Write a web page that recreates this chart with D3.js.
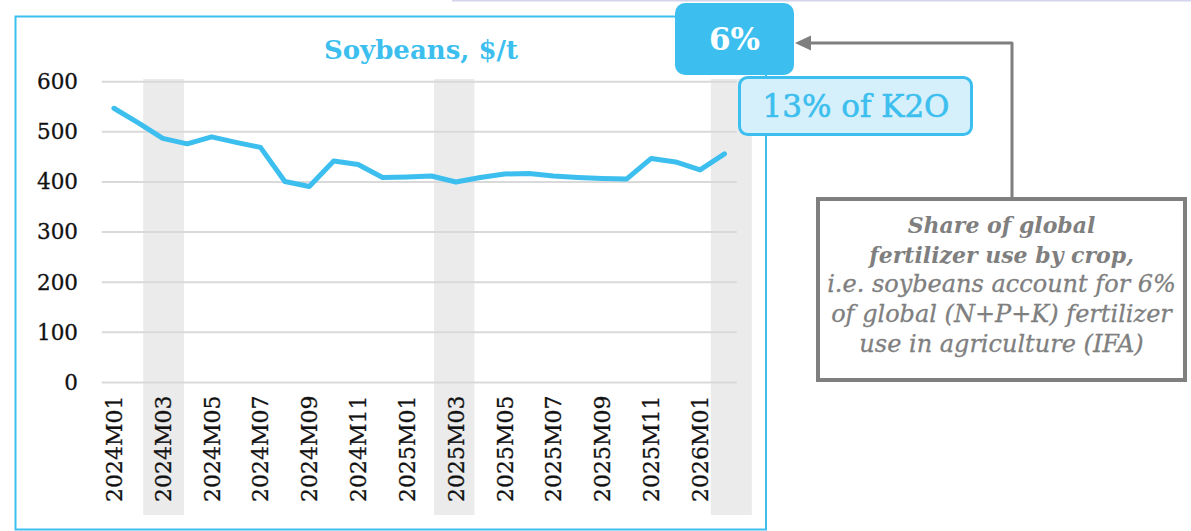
<!DOCTYPE html>
<html>
<head>
<meta charset="utf-8">
<script src="https://cdn.jsdelivr.net/npm/d3@7"></script>
<style>
    body { margin: 0; background: #fff; }
    svg { display: block; font-family: 'DejaVu Serif', serif; }
</style>
</head>
<body>
<svg width="1191" height="531"></svg>
<script>
// data
var months = ['2024M01','2024M02','2024M03','2024M04','2024M05','2024M06','2024M07','2024M08','2024M09','2024M10','2024M11','2024M12',
    '2025M01','2025M02','2025M03','2025M04','2025M05','2025M06','2025M07','2025M08','2025M09','2025M10','2025M11','2025M12',
    '2026M01','2026M02'];
var prices = [547, 518, 487, 476, 490, 479, 469, 401, 391, 442, 435, 409,
    410, 412, 400, 409, 416, 417, 412, 409, 407, 406, 447, 440,
    424, 456];
var yTicks = [0, 100, 200, 300, 400, 500, 600];
// shaded periods, in month units from the left of the plot
var shadeStart = [1.70, 13.61, 24.94];
var shadeEnd = [3.37, 15.26, 26.62];

var title = 'Soybeans, $/t';
var shareLabel = '6%';
var k2oLabel = '13% of K2O';
var noteLines = ['Share of global', 'fertilizer use by crop,', 'i.e. soybeans account for 6%',
    'of global (N+P+K) fertilizer', 'use in agriculture (IFA)'];

var blue = '#3cbfee';
var grey = '#7f7f7f';

var svg = d3.select('svg');

// faint line along the top
svg.append('line')
    .attr('x1', 452).attr('x2', 1191)
    .attr('y1', 0.75).attr('y2', 0.75)
    .style('stroke', '#d4d4ec')
    .style('stroke-width', 1.5);

// chart frame
svg.append('rect')
    .attr('x', 15.5).attr('y', 16.5)
    .attr('width', 750.5).attr('height', 513)
    .style('fill', 'none')
    .style('stroke', blue)
    .style('stroke-width', 2);

// scales
var plot = {l: 101.7, r: 736.7};
var xScale = d3.scaleBand()
    .domain(months)
    .range([plot.l, plot.r]);
var xLin = d3.scaleLinear()
    .domain([0, months.length])
    .range([plot.l, plot.r]);
var yScale = d3.scaleLinear()
    .domain([0, 600])
    .range([382.5, 81.7]);

var xc = function(m) { return xScale(m) + xScale.bandwidth() / 2; };

// shaded bands
svg.selectAll('.shade')
    .data(shadeStart)
    .enter()
    .append('rect')
    .attr('class', 'shade')
    .attr('x', function(d) { return xLin(d); })
    .attr('width', function(d, i) { return xLin(shadeEnd[i]) - xLin(d); })
    .attr('y', 79)
    .attr('height', 436)
    .style('fill', '#ebebeb');

// gridlines
svg.selectAll('.grid')
    .data(yTicks)
    .enter()
    .append('line')
    .attr('class', 'grid')
    .attr('x1', plot.l).attr('x2', plot.r)
    .attr('y1', function(d) { return yScale(d); })
    .attr('y2', function(d) { return yScale(d); })
    .style('stroke', '#d9d9d9')
    .style('stroke-width', 2);

// y axis
var yAxisG = svg.append('g')
    .attr('transform', 'translate(78,0)')
    .call(d3.axisLeft(yScale).tickValues(yTicks).tickSize(0).tickPadding(0));
yAxisG.select('.domain').remove();
yAxisG.selectAll('text')
    .style('font-family', "'DejaVu Serif', serif")
    .style('font-size', '21.5px')
    .style('fill', '#111')
    .style('stroke', '#111')
    .style('stroke-width', 0.3);

// x axis, every other month
var xAxisG = svg.append('g')
    .attr('transform', 'translate(0,' + yScale(0) + ')')
    .call(d3.axisBottom(xScale)
        .tickValues(months.filter(function(d, i) { return i % 2 === 0; }))
        .tickSize(0));
xAxisG.select('.domain').remove();
xAxisG.selectAll('text')
    .attr('transform', 'rotate(-90)')
    .attr('text-anchor', 'end')
    .attr('x', -13)
    .attr('y', 0)
    .attr('dy', '0.36em')
    .style('font-family', "'DejaVu Serif', serif")
    .style('font-size', '22px')
    .style('fill', '#111')
    .style('stroke', '#111')
    .style('stroke-width', 0.3);

// price line
var line = d3.line()
    .x(function(d, i) { return xc(months[i]); })
    .y(function(d) { return yScale(d); });

svg.append('path')
    .datum(prices)
    .attr('d', line)
    .style('fill', 'none')
    .style('stroke', blue)
    .style('stroke-width', 5)
    .style('stroke-linejoin', 'round')
    .style('stroke-linecap', 'round');

// title
svg.append('text')
    .attr('x', 421).attr('y', 59)
    .attr('text-anchor', 'middle')
    .style('font-size', '26px')
    .style('font-weight', 'bold')
    .style('fill', blue)
    .text(title);

// 6% box
svg.append('rect')
    .attr('x', 675).attr('y', 3)
    .attr('width', 119).attr('height', 72)
    .attr('rx', 10)
    .style('fill', blue);
svg.append('text')
    .attr('x', 734.5).attr('y', 50)
    .attr('text-anchor', 'middle')
    .style('font-size', '31px')
    .style('font-weight', 'bold')
    .style('fill', '#fff')
    .text(shareLabel);

// 13% of K2O box
svg.append('rect')
    .attr('x', 739.5).attr('y', 77.5)
    .attr('width', 232).attr('height', 57)
    .attr('rx', 8)
    .style('fill', '#d6f0fb')
    .style('stroke', blue)
    .style('stroke-width', 3);
svg.append('text')
    .attr('x', 856).attr('y', 117)
    .attr('text-anchor', 'middle')
    .style('font-size', '31px')
    .style('fill', blue)
    .style('stroke', blue)
    .style('stroke-width', 0.6)
    .text(k2oLabel);

// connector arrow
svg.append('path')
    .attr('d', 'M1012,199 L1012,43 L808,43')
    .style('fill', 'none')
    .style('stroke', grey)
    .style('stroke-width', 3)
    .style('stroke-linejoin', 'round');
svg.append('path')
    .attr('d', 'M795,43 L811,35.5 L811,50.5 Z')
    .style('fill', grey);

// note box
svg.append('rect')
    .attr('x', 818).attr('y', 199)
    .attr('width', 367).attr('height', 181)
    .style('fill', '#fff')
    .style('stroke', grey)
    .style('stroke-width', 4);

svg.selectAll('.note')
    .data(noteLines)
    .enter()
    .append('text')
    .attr('class', 'note')
    .attr('x', 1001.5)
    .attr('y', function(d, i) { return 233 + i * 29.7; })
    .attr('text-anchor', 'middle')
    .style('font-size', function(d, i) { return i < 2 ? '22px' : '24px'; })
    .style('font-style', 'italic')
    .style('font-weight', function(d, i) { return i < 2 ? 'bold' : 'normal'; })
    .style('fill', grey)
    .style('stroke', grey)
    .style('stroke-width', function(d, i) { return i < 2 ? 0 : 0.3; })
    .text(function(d) { return d; });
</script>
</body>
</html>
